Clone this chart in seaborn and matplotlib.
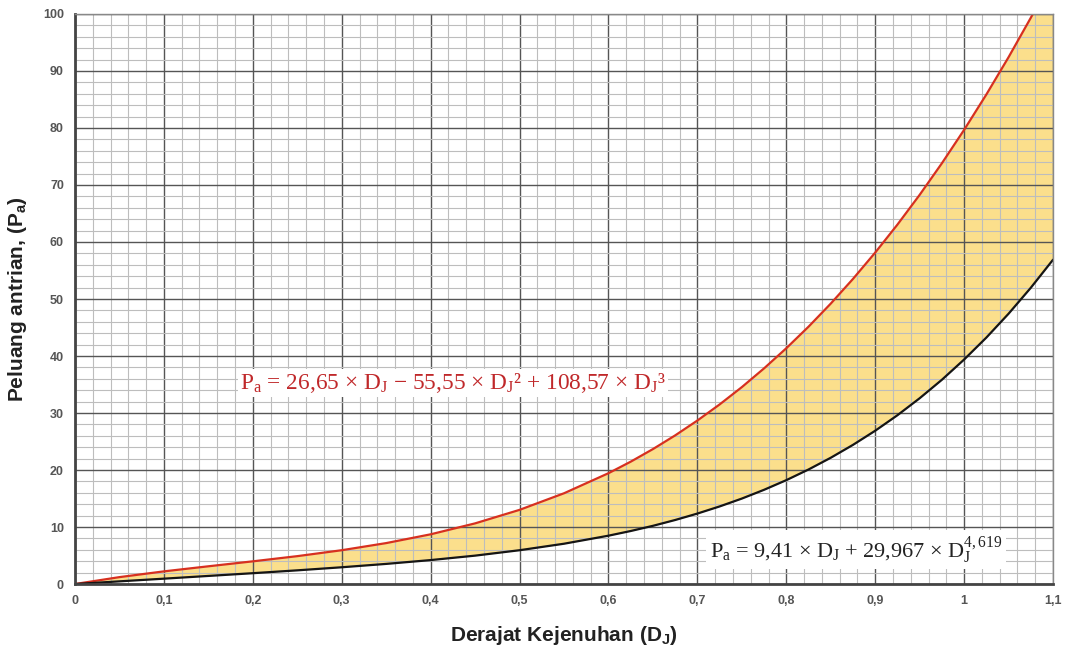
import numpy as np
import pandas as pd
import matplotlib
matplotlib.use("Agg")
import matplotlib.pyplot as plt
import seaborn as sns
from matplotlib.ticker import MultipleLocator, FixedLocator

# ---- data ----
dj = [0.0, 0.05, 0.1, 0.15, 0.2, 0.25, 0.3, 0.35, 0.4, 0.45, 0.5, 0.55,
      0.6, 0.625, 0.65, 0.675, 0.7, 0.725, 0.75, 0.775, 0.8, 0.825, 0.85, 0.875,
      0.9, 0.925, 0.95, 0.975, 1.0, 1.025, 1.05, 1.075, 1.1]
pa_upper = [0.0, 1.21, 2.22, 3.11, 3.98, 4.89, 5.93, 7.18, 8.72, 10.64, 13.01, 15.92,
            19.44, 21.46, 23.67, 26.07, 28.68, 31.50, 34.54, 37.83, 41.36, 45.14, 49.19, 53.52,
            58.14, 63.05, 68.27, 73.81, 79.67, 85.87, 92.42, 99.33, 106.61]
pa_lower = [0.0, 0.47, 0.94, 1.42, 1.90, 2.40, 2.94, 3.53, 4.20, 4.98, 5.93, 7.07,
            8.48, 9.30, 10.21, 11.23, 12.36, 13.61, 14.99, 16.53, 18.22, 20.09, 22.15, 24.41,
            26.89, 29.61, 32.59, 35.83, 39.38, 43.23, 47.42, 51.97, 56.89]
x_ticks = [0, 0.1, 0.2, 0.3, 0.4, 0.5, 0.6, 0.7, 0.8, 0.9, 1.0, 1.1]
x_ticklabels = ["0", "0,1", "0,2", "0,3", "0,4", "0,5", "0,6", "0,7", "0,8", "0,9", "1", "1,1"]
y_ticks = [0, 10, 20, 30, 40, 50, 60, 70, 80, 90, 100]
label_upper = r"$\mathrm{P_a}$ = 26,65 × $\mathrm{D_J}$ − 55,55 × $\mathrm{D_J}$² + 108,57 × $\mathrm{D_J}$³"
label_lower = r"$\mathrm{P_a}$ = 9,41 × $\mathrm{D_J}$ + 29,967 × $\mathrm{D_J^{4,619}}$"
xlabel = r"Derajat Kejenuhan (D$_\mathbf{J}$)"
ylabel = r"Peluang antrian, (P$_\mathbf{a}$)"

df = pd.DataFrame({"dj": dj, "upper": pa_upper, "lower": pa_lower})

sns.set_theme(style="white")
plt.rcParams["font.family"] = ["Liberation Sans", "DejaVu Sans"]
plt.rcParams["mathtext.fontset"] = "custom"
plt.rcParams["mathtext.rm"] = "Liberation Serif"
plt.rcParams["mathtext.it"] = "Liberation Serif:italic"
plt.rcParams["mathtext.bf"] = "Liberation Sans:bold"

fig = plt.figure(figsize=(10.67, 6.5), dpi=100)
ax = fig.add_axes([0.0703, 0.1015, 0.9166, 0.877])

ax.fill_between(df["dj"], df["lower"], df["upper"], color="#FBDF8C", zorder=1, linewidth=0)
sns.lineplot(data=df, x="dj", y="upper", color="#D7301F", linewidth=1.6, ax=ax, zorder=3)
sns.lineplot(data=df, x="dj", y="lower", color="#151515", linewidth=1.6, ax=ax, zorder=3)

ax.set_xlim(0, 1.1)
ax.set_ylim(0, 100)
ax.xaxis.set_major_locator(FixedLocator(x_ticks))
ax.set_xticklabels(x_ticklabels)
ax.yaxis.set_major_locator(FixedLocator(y_ticks))
ax.xaxis.set_minor_locator(MultipleLocator(0.02))
ax.yaxis.set_minor_locator(MultipleLocator(2))
ax.set_axisbelow(False)
ax.grid(which="major", color="#555555", linewidth=1.0, zorder=2)
ax.grid(which="minor", color="#bdbdbd", linewidth=0.8, zorder=2)
ax.tick_params(which="both", length=0, pad=8)
for lbl in ax.get_xticklabels() + ax.get_yticklabels():
    lbl.set_fontweight("bold")
    lbl.set_color("#555555")
    lbl.set_fontsize(9)

for side in ["left", "bottom"]:
    ax.spines[side].set_color("#444444")
    ax.spines[side].set_linewidth(2.0)
for side in ["top", "right"]:
    ax.spines[side].set_color("#888888")
    ax.spines[side].set_linewidth(1.0)
for s in ax.spines.values():
    s.set_zorder(4)

ax.set_xlabel(xlabel, fontsize=15, fontweight="bold", color="#222222", labelpad=12)
ax.set_ylabel(ylabel, fontsize=15, fontweight="bold", color="#222222", labelpad=10)

serif = ["Liberation Serif", "DejaVu Serif"]
ax.text(0.186, 35.3, label_upper, fontsize=16.8, family=serif, color="#C0282A",
        va="center", ha="left", zorder=5,
        bbox=dict(facecolor="white", edgecolor="none", pad=1.5))
ax.text(0.714, 6.0, label_lower, fontsize=16, family=serif, color="#222222",
        va="center", ha="left", zorder=5,
        bbox=dict(facecolor="white", edgecolor="none", pad=2.5))

fig.savefig("out.png", dpi=100)
